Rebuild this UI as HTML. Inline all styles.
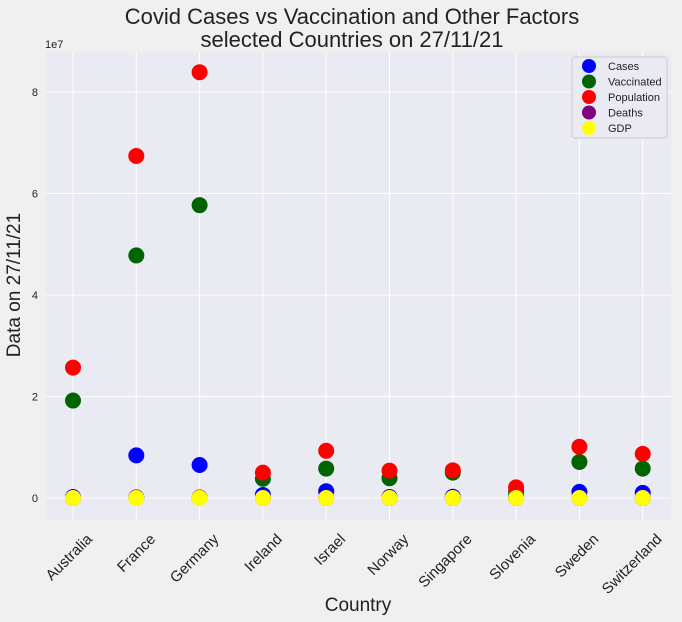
<!DOCTYPE html>
<html><head><meta charset="utf-8"><style>
body{margin:0;background:#f0f0f0;font-family:"Liberation Sans",sans-serif;}
svg{display:block}
</style></head><body>
<svg id="chart" width="682" height="622">
<rect width="682" height="622" fill="#f0f0f0"/>
<text x="352" y="24" text-anchor="middle" font-size="22" fill="#222">Covid Cases vs Vaccination and Other Factors</text>
<text x="352" y="47" text-anchor="middle" font-size="22" fill="#222">selected Countries on 27/11/21</text>
<rect x="46" y="52" width="625" height="468" fill="#eaeaf2"/>
<g id="grid"></g><g id="axes"></g><g id="marks"></g>
<text x="45" y="48" font-size="11" fill="#222">1e7</text>
<text transform="translate(20,285) rotate(-90)" text-anchor="middle" font-size="19" fill="#222">Data on 27/11/21</text>
<text x="358" y="611" text-anchor="middle" font-size="19" fill="#222">Country</text>
<g id="legend"></g>
</svg>
<script>
const categories=["Australia","France","Germany","Ireland","Israel","Norway","Singapore","Slovenia","Sweden","Switzerland"];
const cases=[0.2,8.4,6.5,0.6,1.34,0.2,0.25,0.43,1.2,1.0];
const vaccinated=[19.2,47.8,57.7,3.8,5.8,3.9,5.0,1.2,7.1,5.8];
const population=[25.7,67.4,83.9,5.0,9.3,5.4,5.45,2.1,10.1,8.7];
const deaths=[0.002,0.118,0.1,0.0056,0.008,0.001,0.0007,0.005,0.015,0.011];
const gdp=[0.00005,0.00004,0.00005,0.0001,0.00004,0.00007,0.0001,0.00003,0.00005,0.00007];
const yTicks=[0,2,4,6,8];
const series=[["Cases",cases,"#0000ff"],["Vaccinated",vaccinated,"#006400"],["Population",population,"#ff0000"],["Deaths",deaths,"#800080"],["GDP",gdp,"#ffff00"]];
const NS="http://www.w3.org/2000/svg";
const x=i=>73+i*63.3;
const y=v=>498-v/10*50.75;
function mk(t,a,p){const e=document.createElementNS(NS,t);for(const k in a)e.setAttribute(k,a[k]);p.appendChild(e);return e;}
const grid=document.getElementById('grid'),axes=document.getElementById('axes'),marks=document.getElementById('marks'),lg=document.getElementById('legend');
yTicks.forEach(t=>{
 const l=mk('line',{x1:46,x2:671,y1:y(t*10),y2:y(t*10),stroke:'#fff','stroke-width':1},grid);
 
 
 const tx=mk('text',{x:38,y:y(t*10)+4,'text-anchor':'end','font-size':11,fill:'#222'},axes);
 tx.textContent=t;
 
 
});
categories.forEach((c,i)=>{
 const l=mk('line',{x1:x(i),x2:x(i),y1:52,y2:520,stroke:'#fff','stroke-width':1},grid);
 
 
 const tx=mk('text',{'text-anchor':'end','font-size':15,fill:'#222',transform:`translate(${x(i)+20},${540}) rotate(-45)`},axes);
 tx.textContent=c;
 
 
});
series.forEach(([name,vals,col],si)=>{
 vals.forEach((v,i)=>{
  const c=mk('circle',{cx:x(i),cy:y(v),r:8,fill:col},marks);
  
  
 });
});
mk('rect',{x:572,y:57,width:95,height:81,fill:'#eaeaf2',stroke:'#ccc',rx:3},lg);
series.forEach(([name,vals,col],si)=>{
 const c=mk('circle',{cx:589,cy:66+si*15.5,r:7,fill:col},lg);
 
 
 const t=mk('text',{x:608,y:70+si*15.5,'font-size':11,fill:'#222'},lg);
 t.textContent=name;
 
 
});
</script>
</body></html>
